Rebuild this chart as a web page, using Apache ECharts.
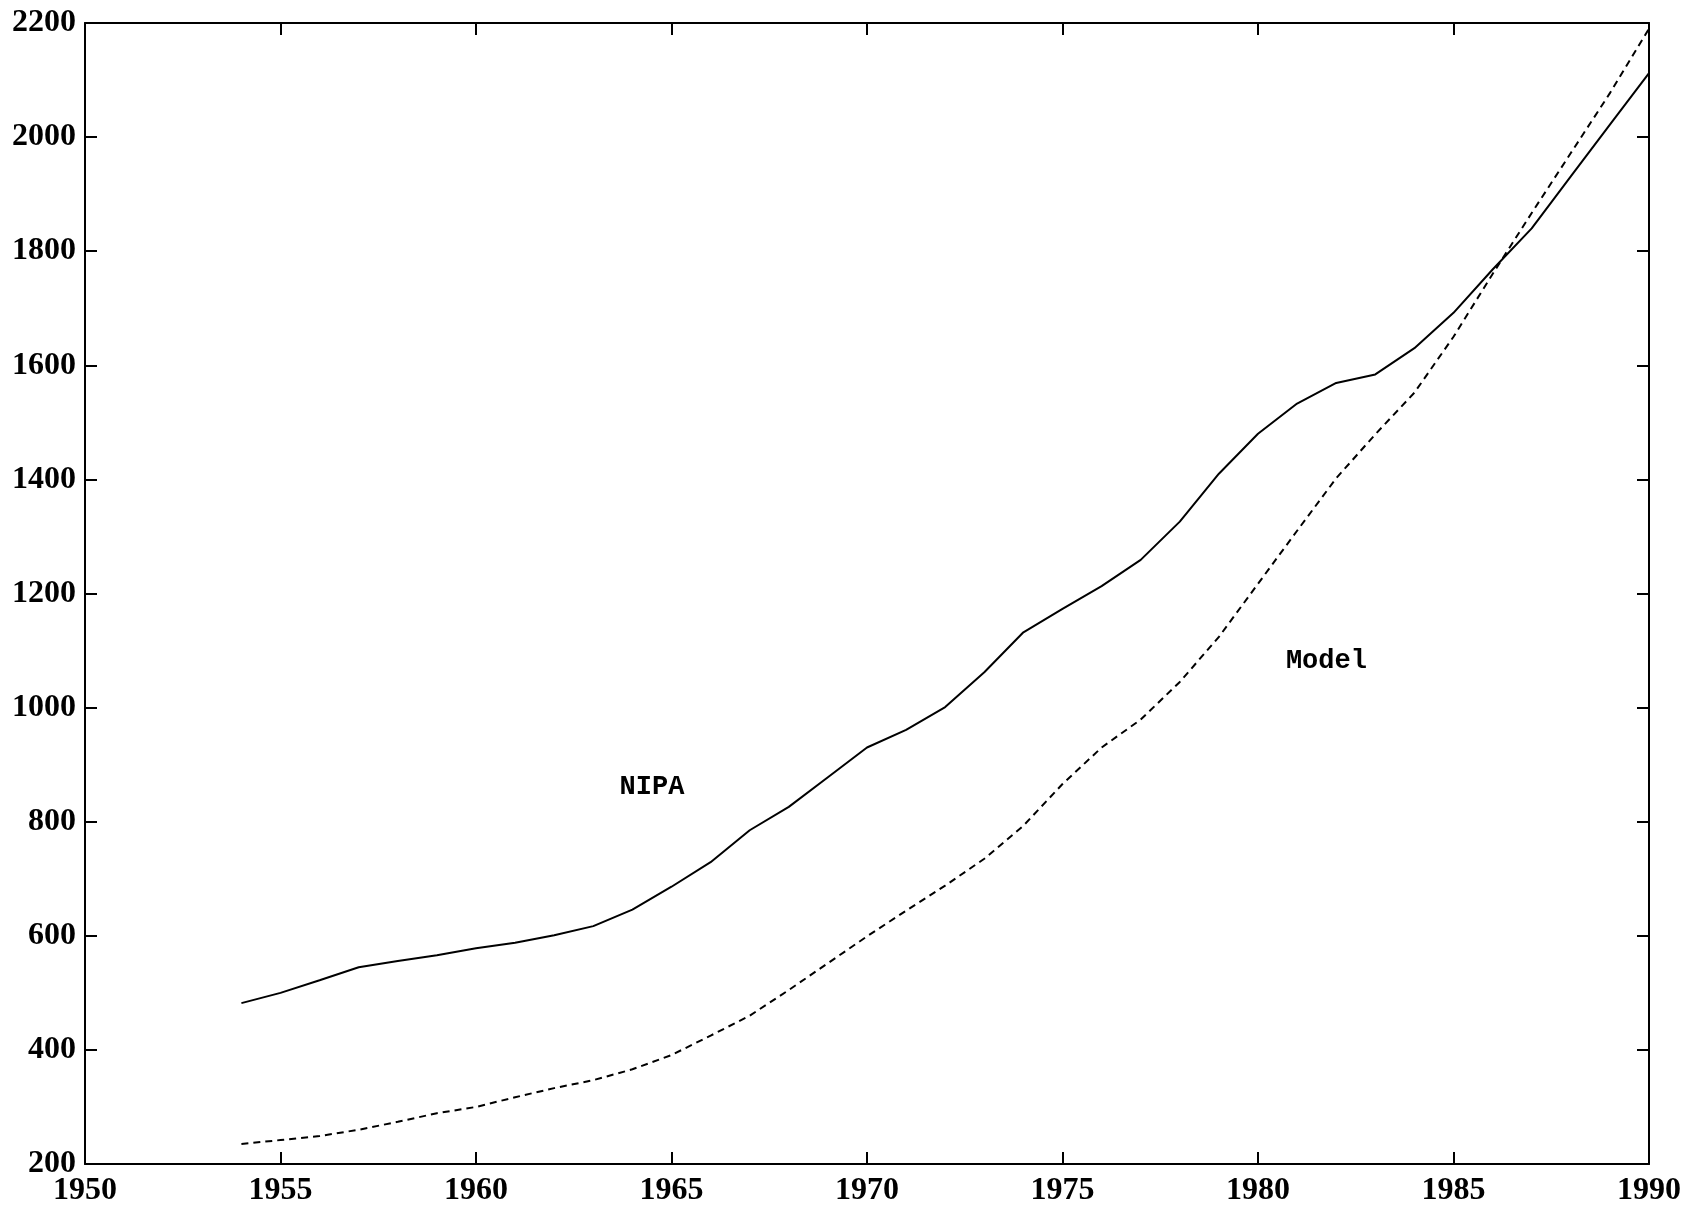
<!DOCTYPE html>
<html>
<head>
<meta charset="utf-8">
<style>
  html, body { margin: 0; padding: 0; background: #fff; }
  #chart { width: 1692px; height: 1207px; }
</style>
<script src="https://cdn.jsdelivr.net/npm/echarts@6/dist/echarts.min.js"></script>
</head>
<body>
<div id="chart"></div>
<script>
// Annual observations, 1954-1990
const years = [1954, 1955, 1956, 1957, 1958, 1959, 1960, 1961, 1962, 1963,
               1964, 1965, 1966, 1967, 1968, 1969, 1970, 1971, 1972, 1973,
               1974, 1975, 1976, 1977, 1978, 1979, 1980, 1981, 1982, 1983,
               1984, 1985, 1986, 1987, 1988, 1989, 1990];

// National accounts series (solid line)
const nipa = [482, 500, 522, 545, 556, 566, 578, 588, 601, 617,
              646, 686, 729, 785, 826, 878, 930, 961, 1001, 1062,
              1132, 1173, 1213, 1259, 1326, 1410, 1480, 1533, 1569, 1584,
              1630, 1692, 1768, 1840, 1931, 2022, 2112];

// Model series (dashed line)
const model = [235, 242, 249, 260, 274, 289, 300, 317, 333, 347,
               366, 391, 425, 460, 505, 552, 599, 644, 688, 735,
               793, 866, 930, 979, 1045, 1124, 1217, 1310, 1402, 1479,
               1552, 1650, 1760, 1867, 1972, 2077, 2190];

// Axis ranges and tick steps
const xMin = 1950, xMax = 1990, xStep = 5;
const yMin = 200, yMax = 2200, yStep = 200;

// Series labels placed in data coordinates
const labelNipa = { text: 'NIPA', at: [1964.5, 860] };
const labelModel = { text: 'Model', at: [1981.75, 1082] };

const pairs = (ys) => years.map((yr, i) => [yr, ys[i]]);

const chart = echarts.init(document.getElementById('chart'), null, { renderer: 'canvas' });

const axisLineStyle = { color: '#000', width: 2 };
const tickStyle = { show: true, inside: true, length: 12, lineStyle: { color: '#000', width: 2 } };
const serif = '"Liberation Serif", "Times New Roman", serif';
const mono = '"Liberation Mono", "Courier New", monospace';
const plain = (v) => String(v);

chart.setOption({
  animation: false,
  backgroundColor: '#fff',
  grid: { left: 85, right: 43, top: 23, bottom: 43, containLabel: false },
  xAxis: [
    {
      type: 'value', min: xMin, max: xMax, interval: xStep,
      position: 'bottom',
      axisLine: { show: true, lineStyle: axisLineStyle },
      axisTick: tickStyle,
      splitLine: { show: false },
      axisLabel: { color: '#000', fontFamily: serif, fontWeight: 'bold', fontSize: 32, margin: 11, formatter: plain }
    },
    {
      type: 'value', min: xMin, max: xMax, interval: xStep,
      position: 'top',
      axisLine: { show: true, lineStyle: axisLineStyle },
      axisTick: tickStyle,
      splitLine: { show: false },
      axisLabel: { show: false }
    }
  ],
  yAxis: [
    {
      type: 'value', min: yMin, max: yMax, interval: yStep,
      position: 'left',
      axisLine: { show: true, lineStyle: axisLineStyle },
      axisTick: tickStyle,
      splitLine: { show: false },
      axisLabel: { color: '#000', fontFamily: serif, fontWeight: 'bold', fontSize: 32, margin: 9, formatter: plain }
    },
    {
      type: 'value', min: yMin, max: yMax, interval: yStep,
      position: 'right',
      axisLine: { show: true, lineStyle: axisLineStyle },
      axisTick: tickStyle,
      splitLine: { show: false },
      axisLabel: { show: false }
    }
  ],
  series: [
    {
      name: 'NIPA',
      type: 'line',
      data: pairs(nipa),
      showSymbol: false,
      lineStyle: { color: '#000', width: 2, type: 'solid' },
      markPoint: {
        symbol: 'circle', symbolSize: 0,
        label: { show: true, color: '#000', fontFamily: mono, fontWeight: 'bold', fontSize: 27, formatter: labelNipa.text },
        data: [{ coord: labelNipa.at }]
      }
    },
    {
      name: 'Model',
      type: 'line',
      data: pairs(model),
      showSymbol: false,
      lineStyle: { color: '#000', width: 2, type: [7, 5] },
      markPoint: {
        symbol: 'circle', symbolSize: 0,
        label: { show: true, color: '#000', fontFamily: mono, fontWeight: 'bold', fontSize: 27, formatter: labelModel.text },
        data: [{ coord: labelModel.at }]
      }
    }
  ]
});
</script>
</body>
</html>
